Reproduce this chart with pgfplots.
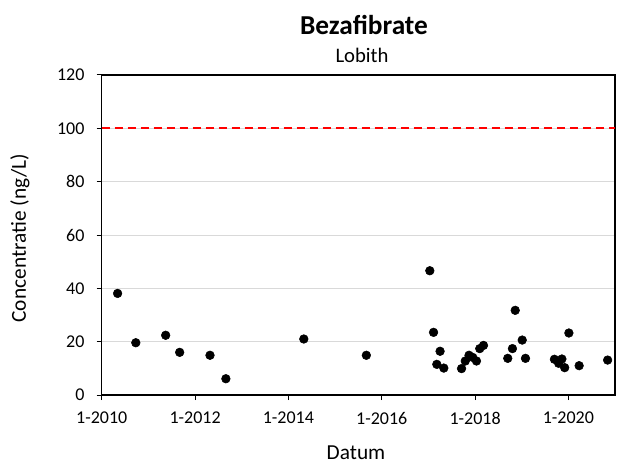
\documentclass[border=0pt]{standalone}
\usepackage{fontspec}
\setmainfont{Carlito}
\usepackage{pgfplots}
\pgfplotsset{compat=1.18}
\definecolor{gridgray}{HTML}{D9D9D9}
\definecolor{limred}{HTML}{FF0000}

\begin{document}
\begin{tikzpicture}[x=1bp,y=1bp]
\useasboundingbox (0,0) rectangle (480,348.75);
\begin{axis}[
  at={(76.3bp,52.5bp)}, anchor=south west,
  scale only axis, width=385bp, height=240bp,
  xmin=2010, xmax=2021, ymin=0, ymax=120,
  xtick={2010,2012,2014,2016,2018,2020},
  xticklabels={1-2010,1-2012,1-2014,1-2016,1-2018,1-2020},
  ytick={0,20,40,60,80,100,120},
  xtick pos=bottom, ytick pos=left,
  tick align=outside, major tick length=3.75bp,
  tick style={black, line width=0.75bp},
  axis line style={black, line width=0.9bp},
  ymajorgrids, grid style={gridgray, line width=0.75bp},
  tick label style={font=\fontsize{13.5bp}{16bp}\selectfont},
  /pgf/number format/assume math mode=true,
  yticklabel style={inner sep=0pt, xshift=-9bp},
  xticklabel style={inner sep=0pt, yshift=-9bp},
  clip=false,
]
\addplot[limred, line width=1.6bp, dash pattern=on 6bp off 3.75bp] coordinates {(2010,100) (2021,100)};
\addplot[only marks, mark=*, mark size=3.25bp, black] coordinates {
(2010.34,38.1) (2010.73,19.6) (2011.37,22.4) (2011.67,16.0) (2012.32,14.9) (2012.66,6.1)
(2014.33,21.0) (2015.67,14.9)
(2017.03,46.6) (2017.11,23.5) (2017.25,16.4) (2017.18,11.5) (2017.33,10.1)
(2017.71,9.9) (2017.79,12.75) (2017.87,14.9) (2017.95,14.1) (2018.03,12.75)
(2018.10,17.4) (2018.18,18.6)
(2018.70,13.75) (2018.80,17.4) (2018.86,31.75) (2019.01,20.6) (2019.08,13.75)
(2019.70,13.4) (2019.79,11.9) (2019.86,13.5) (2019.92,10.25) (2020.01,23.25)
(2020.23,11.0) (2020.84,13.1)
};
\end{axis}
\node[font=\fontsize{20.5bp}{24bp}\selectfont\bfseries] at (273,330) {Bezafibrate};
\node[font=\fontsize{15.5bp}{18bp}\selectfont] at (271.5,307.5) {Lobith};
\node[font=\fontsize{16bp}{19bp}\selectfont] at (267,9) {Datum};
\node[font=\fontsize{16bp}{19bp}\selectfont, rotate=90] at (15,170) {Concentratie (ng/L)};
\end{tikzpicture}
\end{document}
